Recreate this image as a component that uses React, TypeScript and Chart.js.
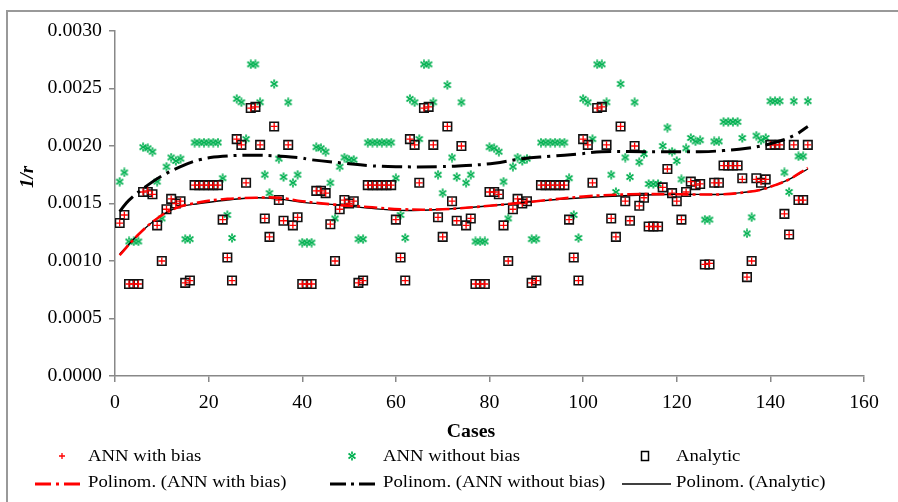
import React, { useEffect, useRef } from 'react';
import { Chart, registerables } from 'chart.js';

Chart.register(...registerables);

const FONT = "'Liberation Serif', 'Times New Roman', Times, serif";
const RED = '#ff0000';
const GREEN = '#00b050';
const STRETCH = 1.1;

// Case numbers 1..148 (x axis categories)
const CASES: number[] = Array.from({ length: 148 }, (_, i) => i + 1);

const X_MIN = 0;
const X_MAX = 160;
const X_STEP = 20;
const Y_MIN = 0;
const Y_MAX = 0.003;
const Y_STEP = 0.0005;

// Analytic values (squares), cases 1..148
const ANALYTIC: number[] = [
  0.00133, 0.00140, 0.00080, 0.00080, 0.00080, 0.00160, 0.00160, 0.00158, 0.00131, 0.00100,
  0.00145, 0.00154, 0.00150, 0.00152, 0.00081, 0.00083, 0.00166, 0.00166, 0.00166, 0.00166,
  0.00166, 0.00166, 0.00136, 0.00103, 0.00083, 0.00206, 0.00201, 0.00168, 0.00233, 0.00234,
  0.00201, 0.00137, 0.00121, 0.00217, 0.00153, 0.00135, 0.00201,
  0.00131, 0.00138, 0.00080, 0.00080, 0.00080, 0.00161, 0.00161, 0.00159, 0.00132, 0.00100,
  0.00145, 0.00153, 0.00150, 0.00152, 0.00081, 0.00083, 0.00166, 0.00166, 0.00166, 0.00166,
  0.00166, 0.00166, 0.00136, 0.00103, 0.00083, 0.00206, 0.00201, 0.00168, 0.00233, 0.00234,
  0.00201, 0.00138, 0.00121, 0.00217, 0.00152, 0.00135, 0.00200,
  0.00131, 0.00137, 0.00080, 0.00080, 0.00080, 0.00160, 0.00160, 0.00158, 0.00131, 0.00100,
  0.00145, 0.00154, 0.00150, 0.00152, 0.00081, 0.00083, 0.00166, 0.00166, 0.00166, 0.00166,
  0.00166, 0.00166, 0.00136, 0.00103, 0.00083, 0.00206, 0.00201, 0.00168, 0.00233, 0.00234,
  0.00201, 0.00137, 0.00121, 0.00217, 0.00152, 0.00135, 0.00200,
  0.00148, 0.00155, 0.00130, 0.00130, 0.00130, 0.00164, 0.00180, 0.00159, 0.00152, 0.00136,
  0.00160, 0.00169, 0.00166, 0.00167, 0.00097, 0.00097, 0.00168, 0.00168, 0.00183, 0.00183,
  0.00183, 0.00183, 0.00172, 0.00086, 0.00100, 0.00172, 0.00168, 0.00171, 0.00201, 0.00201,
  0.00201, 0.00141, 0.00123, 0.00201, 0.00153, 0.00153, 0.00201,
];

// ANN with bias (red +), cases 1..148
const ANN_WITH_BIAS: number[] = [
  0.00133, 0.00140, 0.00080, 0.00080, 0.00080, 0.00160, 0.00161, 0.00158, 0.00131, 0.00100,
  0.00145, 0.00154, 0.00150, 0.00152, 0.00081, 0.00083, 0.00166, 0.00166, 0.00166, 0.00166,
  0.00166, 0.00166, 0.00136, 0.00103, 0.00083, 0.00206, 0.00201, 0.00168, 0.00233, 0.00234,
  0.00201, 0.00137, 0.00121, 0.00217, 0.00153, 0.00135, 0.00201,
  0.00131, 0.00138, 0.00080, 0.00080, 0.00080, 0.00161, 0.00161, 0.00159, 0.00132, 0.00100,
  0.00145, 0.00153, 0.00150, 0.00152, 0.00081, 0.00083, 0.00166, 0.00166, 0.00166, 0.00166,
  0.00166, 0.00166, 0.00136, 0.00103, 0.00083, 0.00206, 0.00201, 0.00168, 0.00233, 0.00234,
  0.00201, 0.00138, 0.00121, 0.00217, 0.00152, 0.00135, 0.00200,
  0.00131, 0.00137, 0.00080, 0.00080, 0.00080, 0.00160, 0.00160, 0.00158, 0.00131, 0.00100,
  0.00145, 0.00154, 0.00150, 0.00152, 0.00081, 0.00083, 0.00166, 0.00166, 0.00166, 0.00166,
  0.00166, 0.00166, 0.00136, 0.00103, 0.00083, 0.00206, 0.00201, 0.00168, 0.00233, 0.00234,
  0.00201, 0.00137, 0.00121, 0.00217, 0.00152, 0.00135, 0.00200,
  0.00148, 0.00155, 0.00130, 0.00130, 0.00130, 0.00164, 0.00180, 0.00159, 0.00152, 0.00136,
  0.00160, 0.00169, 0.00166, 0.00167, 0.00097, 0.00098, 0.00168, 0.00168, 0.00183, 0.00183,
  0.00183, 0.00183, 0.00171, 0.00086, 0.00100, 0.00171, 0.00169, 0.00171, 0.00201, 0.00201,
  0.00201, 0.00141, 0.00123, 0.00201, 0.00153, 0.00153, 0.00201,
];

// ANN without bias (green asterisks), cases 1..148
const ANN_WITHOUT_BIAS: number[] = [
  0.00169, 0.00177, 0.00117, 0.00117, 0.00117, 0.00199, 0.00198, 0.00195, 0.00169, 0.00137,
  0.00182, 0.00190, 0.00187, 0.00189, 0.00119, 0.00119, 0.00203, 0.00203, 0.00203, 0.00203,
  0.00203, 0.00203, 0.00172, 0.00140, 0.00120, 0.00241, 0.00238, 0.00206, 0.00271, 0.00271,
  0.00238, 0.00175, 0.00159, 0.00254, 0.00189, 0.00173, 0.00238,
  0.00168, 0.00175, 0.00116, 0.00116, 0.00116, 0.00199, 0.00198, 0.00195, 0.00168, 0.00137,
  0.00182, 0.00190, 0.00188, 0.00188, 0.00119, 0.00119, 0.00203, 0.00203, 0.00203, 0.00203,
  0.00203, 0.00203, 0.00172, 0.00140, 0.00120, 0.00241, 0.00238, 0.00206, 0.00271, 0.00271,
  0.00238, 0.00175, 0.00159, 0.00253, 0.00190, 0.00173, 0.00238,
  0.00168, 0.00175, 0.00117, 0.00117, 0.00117, 0.00199, 0.00198, 0.00195, 0.00169, 0.00137,
  0.00182, 0.00190, 0.00187, 0.00189, 0.00119, 0.00119, 0.00203, 0.00203, 0.00203, 0.00203,
  0.00203, 0.00203, 0.00172, 0.00140, 0.00120, 0.00241, 0.00238, 0.00206, 0.00271, 0.00271,
  0.00238, 0.00175, 0.00160, 0.00254, 0.00190, 0.00173, 0.00238,
  0.00186, 0.00193, 0.00167, 0.00167, 0.00167, 0.00200, 0.00216, 0.00195, 0.00187, 0.00171,
  0.00198, 0.00207, 0.00204, 0.00205, 0.00136, 0.00136, 0.00204, 0.00204, 0.00221, 0.00221,
  0.00221, 0.00221, 0.00207, 0.00124, 0.00138, 0.00209, 0.00205, 0.00207, 0.00239, 0.00239,
  0.00239, 0.00177, 0.00160, 0.00239, 0.00191, 0.00191, 0.00239,
];

// Polynomial trend lines at sample cases
const TREND_ANALYTIC_X: number[] = [1, 5, 9, 13, 18, 24, 30, 35, 40, 47, 54, 61, 70, 80, 90, 100, 110, 120, 130, 135, 138, 141, 144, 148];
const TREND_ANALYTIC_Y: number[] = [0.00106, 0.00123, 0.00137, 0.00146, 0.00150, 0.00153, 0.00155, 0.00154, 0.00151, 0.00149, 0.00146, 0.00144, 0.00145, 0.00148, 0.00152, 0.00155, 0.00157, 0.00158, 0.00158, 0.00160, 0.00162, 0.00166, 0.00171, 0.00180];

const TREND_WITH_BIAS_X: number[] = [1, 5, 9, 13, 18, 24, 30, 35, 40, 47, 54, 61, 70, 80, 90, 100, 110, 120, 130, 135, 138, 141, 144, 148];
const TREND_WITH_BIAS_Y: number[] = [0.00105, 0.00123, 0.00137, 0.00146, 0.00151, 0.00154, 0.00155, 0.00155, 0.00152, 0.00149, 0.00147, 0.00145, 0.00145, 0.00148, 0.00152, 0.00156, 0.00158, 0.00158, 0.00158, 0.00160, 0.00162, 0.00166, 0.00171, 0.00181];

const TREND_WITHOUT_BIAS_X: number[] = [1, 3, 7, 10, 14, 18, 23, 30, 39, 42, 49, 54, 60, 69, 75, 81, 87, 93, 99, 104, 113, 118, 125, 130, 135, 140, 145, 148];
const TREND_WITHOUT_BIAS_Y: number[] = [0.00143, 0.00153, 0.00166, 0.00174, 0.00182, 0.00188, 0.00191, 0.00192, 0.00190, 0.00188, 0.00185, 0.00183, 0.00182, 0.00182, 0.00183, 0.00185, 0.00189, 0.00191, 0.00193, 0.00195, 0.00195, 0.00195, 0.00195, 0.00196, 0.00198, 0.00202, 0.00209, 0.00217];

const LEGEND_LABELS: string[] = [
  'ANN with bias',
  'ANN without bias',
  'Analytic',
  'Polinom. (ANN with bias)',
  'Polinom. (ANN without bias)',
  'Polinom. (Analytic)',
];
const X_TITLE = 'Cases';
const Y_TITLE = '1/r';

function makeStar(size: number, color: string): HTMLCanvasElement {
  const c = document.createElement('canvas');
  c.width = size;
  c.height = size;
  const g = c.getContext('2d')!;
  g.strokeStyle = color;
  g.lineWidth = 1.7;
  const m = 1.5;
  g.beginPath();
  g.moveTo(m, m + 1);
  g.lineTo(size - m, size - m - 1);
  g.moveTo(size - m, m + 1);
  g.lineTo(m, size - m - 1);
  g.moveTo(size / 2, 0.5);
  g.lineTo(size / 2, 3);
  g.moveTo(size / 2, size - 3);
  g.lineTo(size / 2, size - 0.5);
  g.stroke();
  return c;
}

function stretchedText(ctx: CanvasRenderingContext2D, text: string, x: number, y: number, align: 'left' | 'center' | 'right') {
  const w = ctx.measureText(text).width * STRETCH;
  let left = x;
  if (align === 'center') left = x - w / 2;
  if (align === 'right') left = x - w;
  ctx.save();
  ctx.translate(left, y);
  ctx.scale(STRETCH, 1);
  ctx.textAlign = 'left';
  ctx.fillText(text, 0, 0);
  ctx.restore();
}

const pts = (xs: number[], ys: number[]) => xs.map((x, i) => ({ x, y: ys[i] }));

export default function App() {
  const ref = useRef<HTMLCanvasElement | null>(null);

  useEffect(() => {
    if (!ref.current) return;
    const star = makeStar(10, GREEN);

    const decor = {
      id: 'decor',
      beforeDraw(chart: any) {
        const ctx = chart.ctx;
        ctx.save();
        ctx.fillStyle = '#ffffff';
        ctx.fillRect(0, 0, chart.width, chart.height);
        ctx.strokeStyle = '#999999';
        ctx.lineWidth = 2;
        ctx.beginPath();
        ctx.moveTo(7, chart.height + 2);
        ctx.lineTo(7, 11);
        ctx.lineTo(chart.width + 2, 11);
        ctx.stroke();
        ctx.restore();
      },
      afterDraw(chart: any) {
        const ctx = chart.ctx as CanvasRenderingContext2D;
        const xs = chart.scales.x;
        const ys = chart.scales.y;
        ctx.save();
        ctx.fillStyle = '#000';
        ctx.textBaseline = 'middle';

        // tick labels
        ctx.font = `18px ${FONT}`;
        for (let v = X_MIN; v <= X_MAX; v += X_STEP) {
          stretchedText(ctx, String(v), xs.getPixelForValue(v), 403, 'center');
        }
        for (let k = 0; k * Y_STEP <= Y_MAX + 1e-9; k++) {
          const v = k * Y_STEP;
          stretchedText(ctx, v.toFixed(4), 102, ys.getPixelForValue(v), 'right');
        }

        // axis titles
        ctx.font = `bold 18px ${FONT}`;
        stretchedText(ctx, X_TITLE, 471, 432, 'center');
        ctx.save();
        ctx.translate(28, 177);
        ctx.rotate(-Math.PI / 2);
        ctx.font = `italic bold 19px ${FONT}`;
        ctx.textAlign = 'center';
        ctx.fillText(Y_TITLE, 0, 0);
        ctx.restore();

        // legend
        const r1 = 457;
        const r2 = 483;
        ctx.font = `17px ${FONT}`;
        const textX = [88, 383, 676];
        LEGEND_LABELS.forEach((t, i) => {
          stretchedText(ctx, t, textX[i % 3], i < 3 ? r1 : r2, 'left');
        });
        // red cross
        ctx.strokeStyle = RED;
        ctx.lineWidth = 1.3;
        ctx.beginPath();
        ctx.moveTo(59, r1 - 1);
        ctx.lineTo(65, r1 - 1);
        ctx.moveTo(62, r1 - 4);
        ctx.lineTo(62, r1 + 2);
        ctx.stroke();
        // green star
        ctx.drawImage(star, 352 - 5, r1 - 6);
        // square
        ctx.strokeStyle = '#000';
        ctx.lineWidth = 1.5;
        ctx.strokeRect(641.5, r1 - 5.5, 7, 9);
        // red dash-dot sample
        ctx.lineWidth = 3;
        ctx.strokeStyle = RED;
        ctx.setLineDash([16, 5, 3, 5]);
        ctx.beginPath();
        ctx.moveTo(35, r2 + 1);
        ctx.lineTo(85, r2 + 1);
        ctx.stroke();
        // black dash-dot sample
        ctx.strokeStyle = '#000';
        ctx.beginPath();
        ctx.moveTo(330, r2 + 1);
        ctx.lineTo(380, r2 + 1);
        ctx.stroke();
        // solid sample
        ctx.setLineDash([]);
        ctx.lineWidth = 1.5;
        ctx.beginPath();
        ctx.moveTo(622, r2 + 1);
        ctx.lineTo(671, r2 + 1);
        ctx.stroke();
        ctx.restore();
      },
    };

    const axisColor = '#888888';
    const chart = new Chart(ref.current, {
      type: 'scatter',
      data: {
        datasets: [
          {
            label: LEGEND_LABELS[3],
            data: pts(TREND_WITH_BIAS_X, TREND_WITH_BIAS_Y),
            showLine: true,
            borderColor: RED,
            borderWidth: 2.6,
            borderDash: [13, 4, 3, 4],
            pointRadius: 0,
            tension: 0.4,
            fill: false,
          },
          {
            label: LEGEND_LABELS[5],
            data: pts(TREND_ANALYTIC_X, TREND_ANALYTIC_Y),
            showLine: true,
            borderColor: '#000',
            borderWidth: 1.4,
            pointRadius: 0,
            tension: 0.4,
            fill: false,
          },
          {
            label: LEGEND_LABELS[4],
            data: pts(TREND_WITHOUT_BIAS_X, TREND_WITHOUT_BIAS_Y),
            showLine: true,
            borderColor: '#000',
            borderWidth: 3,
            borderDash: [20, 6, 3, 6],
            pointRadius: 0,
            tension: 0.4,
            fill: false,
          },
          {
            label: LEGEND_LABELS[0],
            data: CASES.map((c, i) => ({ x: c, y: ANN_WITH_BIAS[i] })),
            pointStyle: 'cross',
            pointRadius: 3.5,
            borderColor: RED,
            backgroundColor: RED,
            pointBorderWidth: 1.3,
            showLine: false,
          },
          {
            label: LEGEND_LABELS[2],
            data: CASES.map((c, i) => ({ x: c, y: ANALYTIC[i] })),
            pointStyle: 'rect',
            pointRadius: 6,
            borderColor: '#111',
            backgroundColor: 'rgba(255,255,255,0)',
            pointBorderWidth: 1.6,
            showLine: false,
          },
          {
            label: LEGEND_LABELS[1],
            data: CASES.map((c, i) => ({ x: c, y: ANN_WITHOUT_BIAS[i] })),
            pointStyle: star as any,
            pointRadius: 5,
            borderColor: GREEN,
            backgroundColor: GREEN,
            showLine: false,
          },
        ],
      },
      options: {
        responsive: false,
        animation: false,
        events: [],
        layout: { padding: { top: 31, right: 34, left: 0, bottom: 0 } },
        plugins: {
          legend: { display: false },
          tooltip: { enabled: false },
          title: { display: false },
        },
        scales: {
          x: {
            type: 'linear',
            min: X_MIN,
            max: X_MAX,
            ticks: { stepSize: X_STEP, display: false },
            grid: { drawOnChartArea: false, drawTicks: true, tickLength: 6, color: axisColor, lineWidth: 1.5 },
            border: { color: axisColor, width: 1.5 },
            afterFit(s: any) {
              s.height = 126;
            },
          },
          y: {
            type: 'linear',
            min: Y_MIN,
            max: Y_MAX,
            ticks: { stepSize: Y_STEP, display: false },
            grid: { drawOnChartArea: false, drawTicks: true, tickLength: 6, color: axisColor, lineWidth: 1.5 },
            border: { color: axisColor, width: 1.5 },
            afterFit(s: any) {
              s.width = 115;
            },
          },
        },
      },
      plugins: [decor],
    });

    return () => chart.destroy();
  }, []);

  return (
    <div style={{ position: 'absolute', left: 0, top: 0, width: 898, height: 502 }}>
      <canvas ref={ref} width={898} height={502} style={{ display: 'block' }} />
    </div>
  );
}
